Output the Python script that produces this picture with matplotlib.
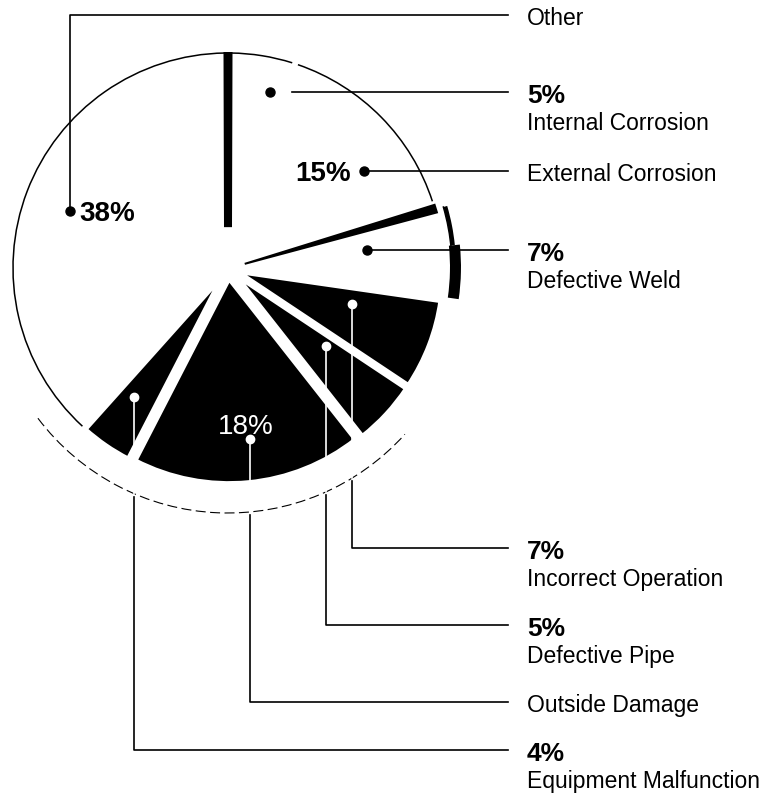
import numpy as np
import matplotlib
matplotlib.use('Agg')
import matplotlib.pyplot as plt
from matplotlib.patches import Arc, Wedge, Polygon

plt.rcParams['font.family'] = ['Liberation Sans', 'DejaVu Sans']

# slices, clockwise from 12 o'clock
causes = ['Internal Corrosion', 'External Corrosion', 'Defective Weld',
          'Incorrect Operation', 'Defective Pipe', 'Outside Damage',
          'Equipment Malfunction', 'Other']
shares = [5, 15, 7, 7, 5, 18, 4, 38]
pct_labels = ['5%', '15%', '7%', '7%', '5%', '18%', '4%', '38%']
dark = [False, False, False, True, True, True, True, False]

W, H = 768, 796


def Y(p):
    # pixel row (from top) -> data y
    return H - p


cx, cy = 228, Y(268)
R = 215
line_end = 508
text_x = 527

fig = plt.figure(figsize=(W / 100, H / 100), dpi=100)
ax = fig.add_axes([0, 0, 1, 1])

colors = ['black' if d else 'white' for d in dark]
wedges, _ = ax.pie(shares, colors=colors, startangle=90, counterclock=False,
                   radius=R, center=(cx, cy), frame=True,
                   wedgeprops=dict(linewidth=0))

# pull slices out a bit
shift = [0, 0, 9, 11, 11, 11, 11, 0]
for w, d, s in zip(wedges, dark, shift):
    mid = np.radians((w.theta1 + w.theta2) / 2)
    w.set_center((cx + s * np.cos(mid), cy + s * np.sin(mid)))
    if d:
        w.set_radius(0.95 * R)
        w.set_edgecolor('white')
        w.set_linewidth(3)
    else:
        w.set_zorder(1)

# outlines of the white slices
for w, d in zip(wedges, dark):
    if not d:
        ax.add_patch(Arc(w.center, 2 * R, 2 * R, theta1=w.theta1 + 0.8,
                         theta2=w.theta2 - 0.8, color='black', lw=1.1, zorder=3))


def strip(center, ang, r0, r1, w0, w1, side):
    # dark band along a slice edge (fake 3-d shadow)
    a = np.radians(ang)
    u = np.array([np.cos(a), np.sin(a)])
    n = np.array([np.sin(a), -np.cos(a)])
    c = np.array(center)
    if side == 0:
        pts = [c + u * r0 - n * w0 / 2, c + u * r1 - n * w1 / 2,
               c + u * r1 + n * w1 / 2, c + u * r0 + n * w0 / 2]
    else:
        pts = [c + u * r0, c + u * r1, c + u * r1 + n * w1, c + u * r0 + n * w0]
    ax.add_patch(Polygon(pts, closed=True, color='black', lw=0, zorder=4))


# 3-d shadows
strip((cx, cy), wedges[0].theta2, 0.19 * R, R + 1, 8, 9, 0)
strip((cx, cy), wedges[1].theta1, 0.08 * R, R + 2, 2, 10, 1)
weld = wedges[2]
ax.add_patch(Wedge(weld.center, R + 9, weld.theta1, weld.theta1 + 14,
                   width=11, color='black', lw=0, zorder=4))
ax.add_patch(Wedge(weld.center, R + 4, weld.theta1 + 14, weld.theta2 - 1,
                   width=4, color='black', lw=0, zorder=4))

# dashed base outline under the dark slices
base_c = (cx, cy - 7)
base_r = 238
ax.add_patch(Arc(base_c, 2 * base_r, 2 * base_r, theta1=-143, theta2=-42,
                 color='black', lw=0.8, ls=(0, (9, 4)), zorder=3))


def base_y(x):
    return base_c[1] - np.sqrt(base_r ** 2 - (x - base_c[0]) ** 2)


# label anchors
anchor_r = [0.84, 0.78, 0.61, 0.55, 0.53, 0.75, 0.69, 0.78]
anchor_turn = [-4.5, -9, 3, 5, 4.5, 2, -1.5, 1]
label_rows = [None, None, None, 548, 625, 702, 750, 15]

lw = 1.2
pct_kw = dict(fontsize=19, fontweight='bold', va='baseline', ha='left')
name_kw = dict(fontsize=16.5, va='baseline', ha='left')

anchors = []
for w, r, t in zip(wedges, anchor_r, anchor_turn):
    a = np.radians((w.theta1 + w.theta2) / 2 + t)
    anchors.append((w.center[0] + r * R * np.cos(a), w.center[1] + r * R * np.sin(a)))

for i, (name, pct, d) in enumerate(zip(causes, pct_labels, dark)):
    x, y = anchors[i]
    if label_rows[i] is None:
        # right-hand labels, straight out
        ax.plot(x, y, 'o', color='black', ms=6.5, zorder=6)
        start = x + 22 if i == 0 else x
        ax.plot([start, line_end], [y, y], color='black', lw=lw, zorder=5)
        ly = y
    elif d:
        ly = Y(label_rows[i])
        ax.plot(x, y, 'o', color='white', ms=6, zorder=6)
        yb = base_y(x)
        ax.plot([x, x], [y, yb], color='white', lw=lw, zorder=5)
        ax.plot([x, x, line_end], [yb - 3, ly, ly], color='black', lw=lw, zorder=5)
    else:
        ly = Y(label_rows[i])
        ax.plot(x, y, 'o', color='black', ms=6.5, zorder=6)
        ax.plot([x, x, line_end], [y, ly, ly], color='black', lw=lw, zorder=5)

    if i in (1, 5, 7):
        # only the name at the right, percent sits in the pie
        ax.text(text_x, ly - 10, name, **name_kw)
        if i == 1:
            ax.text(x - 14, y - 10, pct, fontsize=20, fontweight='bold',
                    ha='right', va='baseline', zorder=6)
        elif i == 5:
            ax.text(x - 4, y + 5, pct, fontsize=20, ha='center', va='baseline',
                    color='white', zorder=6)
        else:
            ax.text(x + 9, y - 10, pct, fontsize=20, fontweight='bold',
                    ha='left', va='baseline', zorder=6)
    else:
        ax.text(text_x, ly - 11, pct, **pct_kw)
        ax.text(text_x, ly - 38, name, **name_kw)

ax.set_xlim(0, W)
ax.set_ylim(0, H)
ax.set_aspect('equal')
ax.axis('off')

fig.savefig('out.png', dpi=100, facecolor='white')
